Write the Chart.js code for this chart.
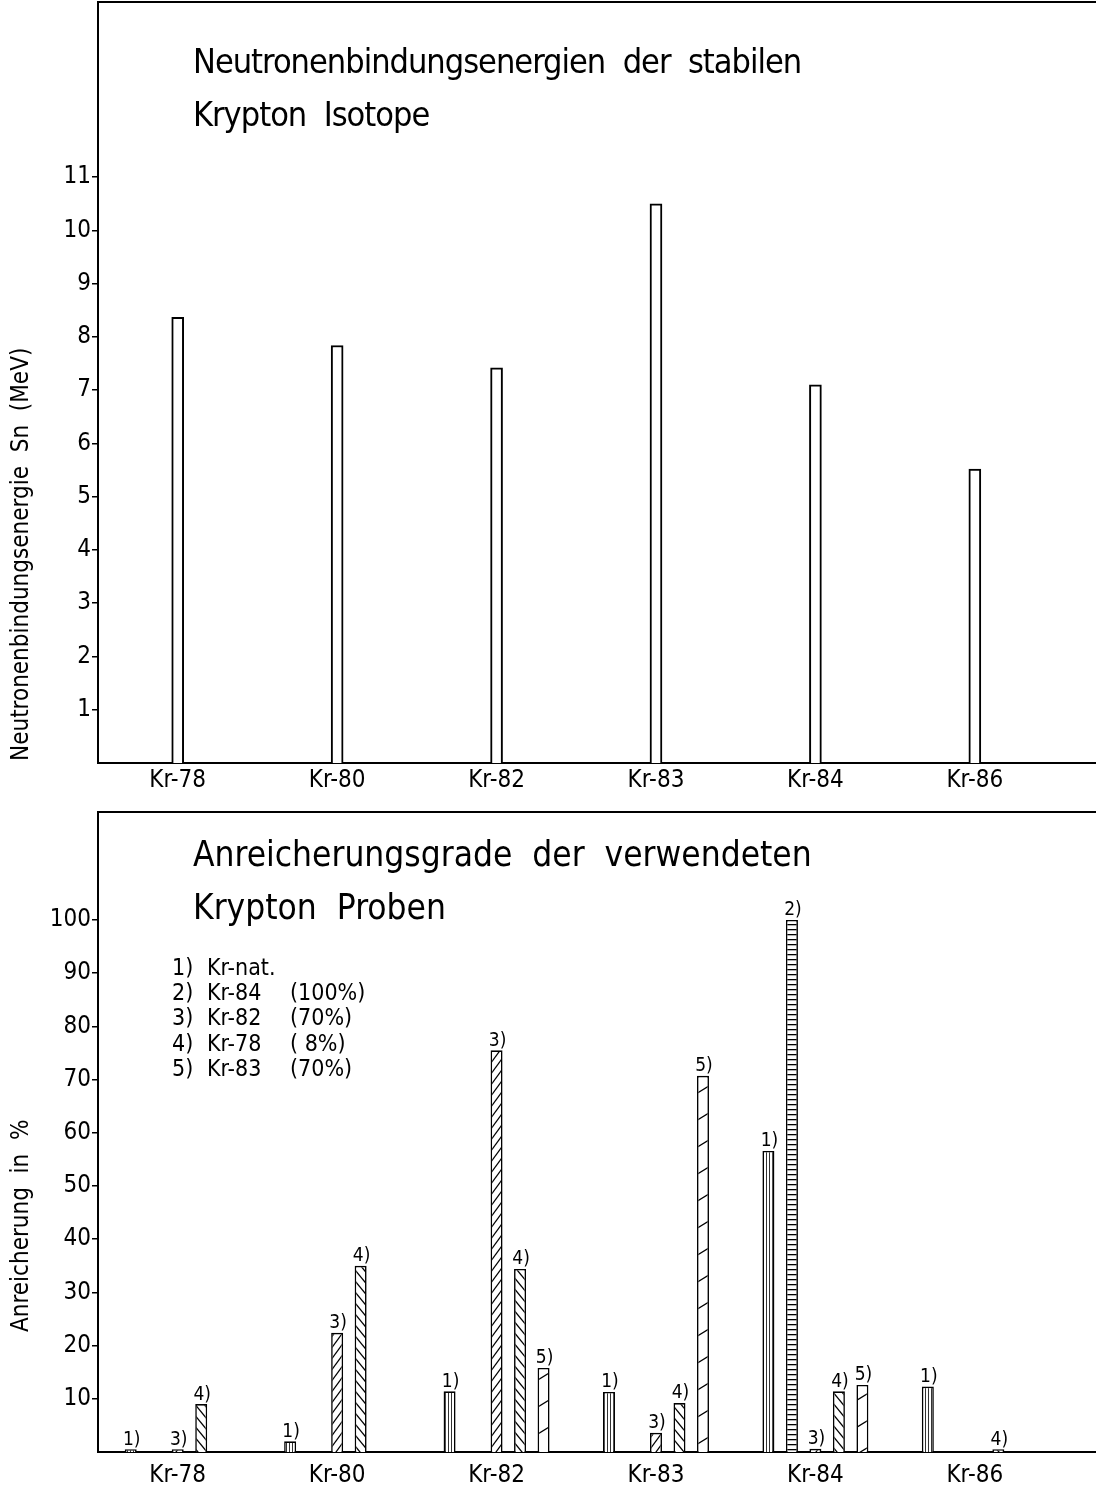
<!DOCTYPE html>
<html>
<head>
<meta charset="utf-8">
<script src="https://cdn.jsdelivr.net/npm/chart.js@4.4.0/dist/chart.umd.min.js"></script>
<style>
body { margin: 0; background: #fff; }
#wrap { position: relative; width: 1096px; height: 1488px; overflow: hidden; background: #fff; }
canvas { position: absolute; left: 0; }
.t { position: absolute; font-family: 'DejaVu Sans Condensed', 'DejaVu Sans', sans-serif; color: #000; white-space: pre; line-height: 1; }
.title { font-size: 34px; left: 193px; letter-spacing: -1px; }
.title2 { font-size: 35px; left: 193px; letter-spacing: 0; }
.leg { font-size: 23px; }
.ytitle { font-size: 24px; transform-origin: left top; transform: rotate(-90deg); }
</style>
</head>
<body>
<div id="wrap">
<canvas id="topChart" width="1096" height="820" style="top:-14px"></canvas>
<canvas id="bottomChart" width="1096" height="696" style="top:792px"></canvas>
<div class="t title" style="top:44px">Neutronenbindungsenergien  der  stabilen</div>
<div class="t title" style="top:97px">Krypton  Isotope</div>
<div class="t title2" style="top:837px">Anreicherungsgrade  der  verwendeten</div>
<div class="t title2" style="top:890px">Krypton  Proben</div>
<div class="t ytitle" style="left:8px; top:761px">Neutronenbindungsenergie  Sn  (MeV)</div>
<div class="t ytitle" style="left:8px; top:1332px">Anreicherung  in  %</div>
<div id="legend"></div>
</div>
<script>
const categories = ['Kr-78', 'Kr-80', 'Kr-82', 'Kr-83', 'Kr-84', 'Kr-86'];

// Neutronenbindungsenergie Sn in MeV
const snValues = [8.37, 7.84, 7.42, 10.5, 7.1, 5.52];
const snTicks = [1, 2, 3, 4, 5, 6, 7, 8, 9, 10, 11];

// Anreicherung in % per sample
const sampleIds = ['1)', '2)', '3)', '4)', '5)'];
const sampleNames = ['Kr-nat.', 'Kr-84', 'Kr-82', 'Kr-78', 'Kr-83'];
const sampleEnrich = ['', '(100%)', '(70%)', '( 8%)', '(70%)'];
const krNat = [0.5, 2.0, 11.4, 11.3, 56.6, 12.3];
const kr84 = [null, null, null, null, 100, null];
const kr82 = [0.5, 22.4, 75.5, 3.6, 0.6, null];
const kr78 = [9.0, 35.0, 34.4, 9.2, 11.4, 0.5];
const kr83 = [null, null, 15.8, 70.7, 12.6, null];
const enrichTicks = [10, 20, 30, 40, 50, 60, 70, 80, 90, 100];

const FONT = "'DejaVu Sans Condensed', 'DejaVu Sans', sans-serif";
Chart.defaults.font.family = FONT;
Chart.defaults.color = '#000';

// legend text block
const legend = document.getElementById('legend');
const legendTops = [956, 981, 1006, 1032, 1057];
sampleIds.forEach((id, i) => {
    const cols = [[172, id], [207, sampleNames[i]], [290, sampleEnrich[i]]];
    cols.forEach(c => {
        const d = document.createElement('div');
        d.className = 't leg';
        d.style.left = c[0] + 'px';
        d.style.top = legendTops[i] + 'px';
        d.textContent = c[1];
        legend.appendChild(d);
    });
});

// hatch patterns
function hatch(w, h, draw) {
    const c = document.createElement('canvas');
    c.width = w; c.height = h;
    const g = c.getContext('2d');
    g.fillStyle = '#fff';
    g.fillRect(0, 0, w, h);
    g.strokeStyle = '#000';
    g.lineWidth = 1.3;
    draw(g, w, h);
    return g.createPattern(c, 'repeat');
}
function rising(g, w, h) {
    for (let k = -1; k <= 1; k++) {
        g.beginPath();
        g.moveTo(-w + k * w, 2 * h);
        g.lineTo(2 * w + k * w, -h);
        g.stroke();
    }
}
function falling(g, w, h) {
    for (let k = -1; k <= 1; k++) {
        g.beginPath();
        g.moveTo(-w + k * w, -h);
        g.lineTo(2 * w + k * w, 2 * h);
        g.stroke();
    }
}
const pVert = hatch(3, 4, (g) => { g.fillStyle = '#333'; g.fillRect(1, 0, 1, 4); });
const pHoriz = hatch(4, 5, (g) => { g.fillStyle = '#000'; g.fillRect(0, 2, 4, 1.3); });
const pRise = hatch(8, 11, rising);
const pFall = hatch(9, 11, falling);
const pRiseWide = hatch(44, 27, rising);

const toPoints = (arr) => arr.map((v, i) => ({ x: i, y: v }));

function yAxis(ticks, max) {
    return {
        type: 'linear',
        min: 0,
        max: max,
        afterBuildTicks: (s) => { s.ticks = ticks.map(v => ({ value: v })); },
        afterFit: (s) => { s.width = 98; },
        ticks: { font: { size: 24 }, color: '#000', padding: 1 },
        grid: { drawOnChartArea: false, drawTicks: true, tickLength: 6, color: '#000', lineWidth: 1.5 },
        border: { display: true, color: '#000', width: 2 }
    };
}
function xAxis(height, pad) {
    return {
        type: 'linear',
        min: -0.5,
        max: 5.76,
        offset: false,
        afterBuildTicks: (s) => { s.ticks = categories.map((c, i) => ({ value: i })); },
        afterFit: (s) => { s.height = height; },
        ticks: { font: { size: 24 }, color: '#000', padding: pad, maxRotation: 0, autoSkip: false,
                 callback: (v) => categories[v] },
        grid: { display: false, drawTicks: false },
        border: { display: true, color: '#000', width: 2 }
    };
}
const frameTop = {
    type: 'linear', position: 'top', min: -0.5, max: 5.76,
    afterFit: (s) => { s.height = 0; },
    ticks: { display: false },
    grid: { display: false, drawTicks: false },
    border: { display: true, color: '#000', width: 2 }
};

// bar numbers above the bottom chart bars
const barNumbers = {
    id: 'barNumbers',
    afterDatasetsDraw(chart) {
        const ctx = chart.ctx;
        ctx.save();
        ctx.font = '19px ' + FONT;
        ctx.fillStyle = '#000';
        ctx.textAlign = 'center';
        ctx.textBaseline = 'bottom';
        chart.data.datasets.forEach((ds, di) => {
            const meta = chart.getDatasetMeta(di);
            meta.data.forEach((el, i) => {
                if (ds.data[i].y == null) return;
                ctx.fillText(ds.label, el.x + 1, el.y);
            });
        });
        ctx.restore();
    }
};

new Chart(document.getElementById('topChart'), {
    type: 'bar',
    data: {
        datasets: [{
            label: 'Sn',
            data: toPoints(snValues),
            backgroundColor: '#fff',
            borderColor: '#000',
            borderWidth: 2,
            barThickness: 12
        }]
    },
    options: {
        responsive: false,
        animation: false,
        layout: { padding: { top: 16, right: 0, left: 0, bottom: 0 } },
        plugins: { legend: { display: false }, tooltip: { enabled: false } },
        scales: {
            x: xAxis(43, 3),
            xTop: frameTop,
            y: yAxis(snTicks, 14.29)
        }
    }
});

const patterns = [pVert, pHoriz, pRise, pFall, pRiseWide];
const series = [krNat, kr84, kr82, kr78, kr83];
new Chart(document.getElementById('bottomChart'), {
    type: 'bar',
    data: {
        datasets: series.map((s, i) => ({
            label: sampleIds[i],
            data: toPoints(s),
            backgroundColor: patterns[i],
            borderColor: '#000',
            borderWidth: 1.6,
            categoryPercentage: 0.737,
            barPercentage: 0.51
        }))
    },
    options: {
        responsive: false,
        animation: false,
        layout: { padding: { top: 20, right: 0, left: 0, bottom: 0 } },
        plugins: { legend: { display: false }, tooltip: { enabled: false } },
        scales: {
            x: xAxis(36, 9),
            xTop: frameTop,
            y: yAxis(enrichTicks, 120.3)
        }
    },
    plugins: [barNumbers]
});
</script>
</body>
</html>
